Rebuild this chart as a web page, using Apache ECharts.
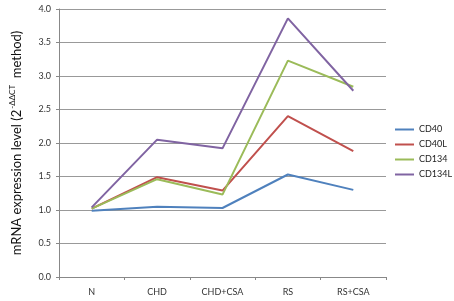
<!DOCTYPE html>
<html><head><meta charset="utf-8">
<script src="https://cdn.jsdelivr.net/npm/echarts@6/dist/echarts.min.js"></script>
<style>html,body{margin:0;padding:0;background:#fff}#c{width:454px;height:301px}</style>
</head><body><div id="c"></div>
<script>
const categories = ['N', 'CHD', 'CHD+CSA', 'RS', 'RS+CSA'];
const seriesNames = ['CD40', 'CD40L', 'CD134', 'CD134L'];
const cd40 = [0.99, 1.05, 1.03, 1.53, 1.30];
const cd40l = [1.02, 1.49, 1.29, 2.40, 1.88];
const cd134 = [1.02, 1.46, 1.23, 3.23, 2.84];
const cd134l = [1.04, 2.05, 1.92, 3.86, 2.78];
const yTicks = ['0.0','0.5','1.0','1.5','2.0','2.5','3.0','3.5','4.0'];
const colors = ['#4F81BD', '#C0504D', '#9BBB59', '#8064A2'];
const values = [cd40, cd40l, cd134, cd134l];
const font = 'Lato, "Open Sans", sans-serif';
const chart = echarts.init(document.getElementById('c'));
chart.setOption({
  animation: false,
  textStyle: { fontFamily: font },
  grid: { left: 57, right: 68, top: 9, bottom: 24 },
  legend: {
    orient: 'vertical', left: 390, top: 120,
    icon: 'rect', itemWidth: 19, itemHeight: 2, itemGap: 6,
    textStyle: { fontSize: 9, color: '#222', fontFamily: font },
    data: seriesNames
  },
  xAxis: {
    type: 'category', data: categories, boundaryGap: true,
    axisLine: { lineStyle: { color: '#888' } },
    axisTick: { show: true, length: 3, lineStyle: { color: '#888' } },
    axisLabel: { fontSize: 9, color: '#333', margin: 11 }
  },
  yAxis: {
    type: 'value', min: 0, max: 4, interval: 0.5,
    axisLine: { show: true, lineStyle: { color: '#888' } },
    axisTick: { show: true, length: 3, lineStyle: { color: '#888' } },
    axisLabel: { fontSize: 9, color: '#333', margin: 8, formatter: v => yTicks[Math.round(v * 2)] },
    splitLine: { lineStyle: { color: '#999' } },
    name: '{a|mRNA expression level (2}{s|-ΔΔCT}{a|  method)}',
    nameLocation: 'middle', nameRotate: 90, nameGap: 34,
    nameTextStyle: {
      padding: [0, 0, 0, 0],
      rich: {
        a: { fontSize: 13, color: '#111', fontFamily: font },
        s: { fontSize: 8, color: '#111', fontFamily: font, padding: [0, 0, 9, 1] }
      }
    }
  },
  series: values.map((d, i) => ({
    name: seriesNames[i], type: 'line', data: d, symbol: 'none',
    lineStyle: { width: 2, color: colors[i] }, itemStyle: { color: colors[i] }
  }))
});
</script></body></html>
